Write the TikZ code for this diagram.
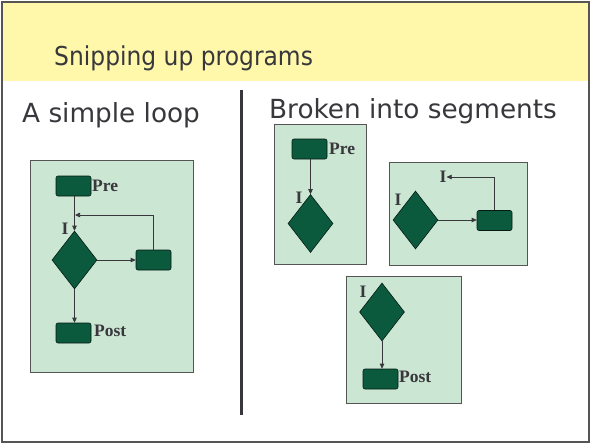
\documentclass[tikz,border=0pt]{standalone}
\usepackage{fontspec}
\setmainfont{Liberation Serif}
\newfontfamily\headfont{DejaVu Sans}
\newfontfamily\titlefont[FakeStretch=0.9]{DejaVu Sans}
\usetikzlibrary{shapes.geometric,arrows.meta}
\definecolor{titlebg}{RGB}{255,247,170}
\definecolor{panelbg}{RGB}{204,230,212}
\definecolor{dkgreen}{RGB}{12,90,62}
\definecolor{txtgray}{RGB}{55,55,60}
\definecolor{framegray}{RGB}{85,85,85}
\tikzset{
  panel/.style={draw=framegray, fill=panelbg, line width=0.8pt},
  blockbox/.style={draw=black!70!dkgreen, fill=dkgreen, rounded corners=2pt, minimum width=35pt, minimum height=20pt, inner sep=0pt, line width=0.6pt},
  decbox/.style={diamond, draw=black!70!dkgreen, fill=dkgreen, minimum width=45pt, minimum height=58pt, inner sep=0pt, line width=0.6pt},
  lbl/.style={font=\fontsize{17.5}{19}\selectfont\bfseries, text=txtgray, inner sep=0pt},
  flow/.style={draw=txtgray, line width=0.7pt, -{Triangle[length=5pt,width=4.5pt]}},
  head/.style={font=\headfont\fontsize{26.3}{30}\selectfont, text=txtgray, inner sep=0pt},
  titletext/.style={font=\titlefont\fontsize{26}{30}\selectfont, text=txtgray, inner sep=0pt},
}
\begin{document}
\begin{tikzpicture}[x=1pt,y=-1pt]
\useasboundingbox (0,0) rectangle (591,444);
% background and title band
\fill[white] (0,0) rectangle (591,444);
\fill[titlebg] (2,2) rectangle (589,81);
\draw[framegray, line width=1.5pt] (2,2) rectangle (589,442);
\node[titletext, anchor=base west] (title) at (54,65) {Snipping up programs};
\node[head, anchor=base west] (h1) at (22,122) {A simple loop};
\node[head, anchor=base west] (h2) at (269,118) {Broken into segments};
\coordinate (divtop) at (241,90);
\coordinate (divbot) at (241,415);
\draw[txtgray, line width=3pt] (divtop) -- (divbot);

% ---- left panel: simple loop
\node[panel, minimum width=163pt, minimum height=212pt, inner sep=0pt, anchor=north west] (p0) at (30,160) {};
\node[blockbox] (pre0) at (73.5,186) {};
\node[lbl, anchor=west] (prel0) at (92,186) {Pre};
\node[decbox] (d0) at (74.5,260) {};
\node[lbl] (i0) at (65,229) {I};
\node[blockbox] (b0) at (153.5,260) {};
\node[blockbox] (post0) at (73.5,333) {};
\node[lbl, anchor=west] (postl0) at (94,331) {Post};
\coordinate (loop0b) at (75,215);
\draw[flow] (pre0.south -| d0.north) -- (d0.north);
\draw[flow] (d0.east) -- (b0.west);
\draw[flow] (d0.south) -- (post0.north -| d0.south);
\draw[flow] (b0.north) |- (loop0b);

% ---- segment 1
\node[panel, minimum width=92pt, minimum height=140pt, inner sep=0pt, anchor=north west] (p1) at (274,124) {};
\node[blockbox] (pre1) at (309.5,149) {};
\node[lbl, anchor=west] (prel1) at (329,149) {Pre};
\node[decbox] (d1) at (310.5,223.5) {};
\node[lbl] (i1) at (299,198) {I};
\draw[flow] (pre1.south -| d1.north) -- (d1.north);

% ---- segment 2
\node[panel, minimum width=138pt, minimum height=103pt, inner sep=0pt, anchor=north west] (p2) at (389,162) {};
\node[decbox] (d2) at (415.5,220) {};
\node[lbl] (i2) at (398,200) {I};
\node[blockbox] (b2) at (494.5,220.5) {};
\node[lbl] (i2b) at (443,177) {I};
\draw[flow] (d2.east) -- (b2.west |- d2.east);
\draw[flow] (b2.north) |- (i2b.east);

% ---- segment 3
\node[panel, minimum width=115pt, minimum height=127pt, inner sep=0pt, anchor=north west] (p3) at (346,276) {};
\node[decbox] (d3) at (382,312) {};
\node[lbl] (i3) at (363,292) {I};
\node[blockbox] (post3) at (380.5,379) {};
\node[lbl, anchor=west] (postl3) at (399,377) {Post};
\draw[flow] (d3.south) -- (post3.north -| d3.south);
\end{tikzpicture}
\end{document}
